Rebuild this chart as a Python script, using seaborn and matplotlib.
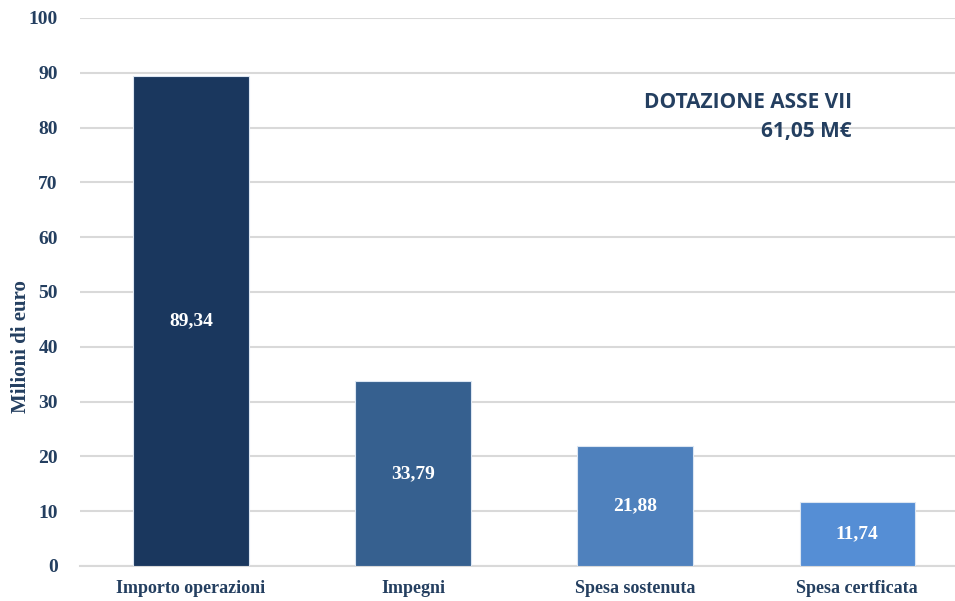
import matplotlib
matplotlib.use("Agg")
import matplotlib.pyplot as plt
import seaborn as sns
import pandas as pd

# values
categories = ["Importo operazioni", "Impegni", "Spesa sostenuta", "Spesa certficata"]
values = [89.34, 33.79, 21.88, 11.74]
bar_colors = ["#1a375e", "#36608f", "#4f81bd", "#558ed5"]
y_ticks = [0, 10, 20, 30, 40, 50, 60, 70, 80, 90, 100]
note_title = "DOTAZIONE ASSE VII"
note_value = "61,05 M€"

df = pd.DataFrame({"categoria": categories, "valore": values})

sns.set_theme(style="white")
plt.rcParams["font.family"] = ["Liberation Serif", "DejaVu Serif"]

text_col = "#243f60"

fig = plt.figure(figsize=(9.55, 6.01), dpi=100)
ax = fig.add_axes([80 / 955, 35 / 601, 875 / 955, 548 / 601])

sns.barplot(data=df, x="categoria", y="valore", hue="categoria",
            palette=bar_colors, saturation=1, width=0.52, legend=False,
            edgecolor="#dce6f2", linewidth=0.8, ax=ax, zorder=3)

ax.set_ylim(0, 100)
ax.set_xlim(-0.5, 3.44)
ax.set_yticks(y_ticks)
ax.grid(axis="y", color="#d9d9d9", linewidth=1.5, zorder=0)
ax.set_axisbelow(True)
for s in ["top", "right", "left"]:
    ax.spines[s].set_visible(False)
ax.spines["bottom"].set_color("#d9d9d9")
ax.spines["bottom"].set_linewidth(1.5)

ax.tick_params(axis="y", length=0, pad=16, labelsize=14, labelcolor=text_col)
ax.tick_params(axis="x", length=0, pad=10, labelsize=13, labelcolor=text_col)
for lab in ax.get_xticklabels() + ax.get_yticklabels():
    lab.set_fontweight("bold")

ax.set_xlabel("")
ax.set_ylabel("Milioni di euro", fontsize=15, fontweight="bold", color=text_col)
ax.yaxis.set_label_coords(-0.056, 0.40)

# value labels in the middle of each bar
for i, v in enumerate(values):
    ax.text(i, v / 2, f"{v:.2f}".replace(".", ","), ha="center", va="center",
            color="white", fontsize=14, fontweight="bold", zorder=4)

fig.text(852 / 955, 1 - 102 / 601, note_title, ha="right", va="center",
         fontsize=15, fontweight="bold", color=text_col, family=["Open Sans", "DejaVu Sans"])
fig.text(852 / 955, 1 - 131 / 601, note_value, ha="right", va="center",
         fontsize=15, fontweight="bold", color=text_col, family=["Open Sans", "DejaVu Sans"])

fig.savefig("out.png", dpi=100)
